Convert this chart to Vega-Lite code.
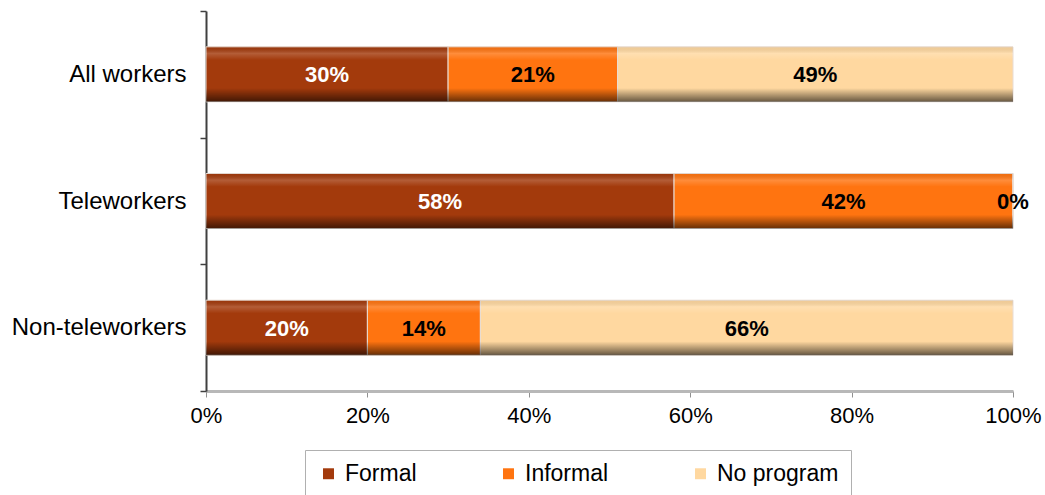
{
  "$schema": "https://vega.github.io/schema/vega-lite/v6.json",
  "width": 807,
  "height": 380,
  "autosize": {"type": "none"},
  "padding": {"left": 206, "top": 11, "right": 32, "bottom": 104},
  "background": "white",
  "config": {
    "font": "Liberation Sans",
    "view": {"stroke": null}
  },
  "data": {
    "values": [
      {"group": "All workers", "type": "Formal", "order": 1, "value": 0.30},
      {"group": "All workers", "type": "Informal", "order": 2, "value": 0.21},
      {"group": "All workers", "type": "No program", "order": 3, "value": 0.49},
      {"group": "Teleworkers", "type": "Formal", "order": 1, "value": 0.58},
      {"group": "Teleworkers", "type": "Informal", "order": 2, "value": 0.42},
      {"group": "Teleworkers", "type": "No program", "order": 3, "value": 0},
      {"group": "Non-teleworkers", "type": "Formal", "order": 1, "value": 0.20},
      {"group": "Non-teleworkers", "type": "Informal", "order": 2, "value": 0.14},
      {"group": "Non-teleworkers", "type": "No program", "order": 3, "value": 0.66}
    ]
  },
  "transform": [
    {"stack": "value", "groupby": ["group"], "sort": [{"field": "order"}], "as": ["v0", "v1"]},
    {"calculate": "(datum.v0 + datum.v1) / 2", "as": "mid"}
  ],
  "encoding": {
    "y": {
      "field": "group",
      "type": "nominal",
      "sort": ["All workers", "Teleworkers", "Non-teleworkers"],
      "scale": {"paddingInner": 0, "paddingOuter": 0},
      "axis": {
        "title": null,
        "labelFontSize": 24,
        "labelColor": "black",
        "labelPadding": 14,
        "tickBand": "extent",
        "tickSize": 6,
        "tickColor": "#404040",
        "domainColor": "#404040",
        "domainWidth": 2,
        "tickWidth": 1.5
      }
    }
  },
  "layer": [
    {
      "mark": {"type": "bar", "stroke": "#e8dcd4", "strokeWidth": 1, "height": {"band": 0.434}},
      "encoding": {
        "x": {
          "field": "v0",
          "type": "quantitative",
          "scale": {"domain": [0, 1], "nice": false},
          "axis": {
            "title": null,
            "values": [0, 0.2, 0.4, 0.6, 0.8, 1],
            "format": ".0%",
            "labelFontSize": 22,
            "labelColor": "black",
            "labelPadding": 8,
            "grid": false,
            "domainColor": "#b8b8b8",
            "domainWidth": 3,
            "tickColor": "#909090",
            "tickSize": 6,
            "labelFlush": false
          }
        },
        "x2": {"field": "v1"},
        "color": {
          "field": "type",
          "type": "nominal",
          "scale": {
            "domain": ["Formal", "Informal", "No program"],
            "range": ["#A33A0C", "#FF7410", "#FFD8A0"]
          },
          "legend": {
            "title": null,
            "orient": "none",
            "direction": "horizontal",
            "legendX": 99,
            "legendY": 439,
            "symbolType": "square",
            "symbolSize": 120,
            "symbolStrokeWidth": 0,
            "symbolOpacity": 1,
            "labelFontSize": 23,
            "labelColor": "black",
            "labelOffset": 5,
            "columnPadding": 80,
            "padding": 12,
            "strokeColor": "#b0b0b0",
            "fillColor": "white"
          }
        }
      }
    },
    {
      "mark": {
        "type": "bar",
        "height": {"band": 0.434},
        "fill": {
          "gradient": "linear",
          "x1": 0, "y1": 0, "x2": 0, "y2": 1,
          "stops": [
            {"offset": 0, "color": "rgba(0,0,0,0.05)"},
            {"offset": 0.12, "color": "rgba(255,255,255,0.18)"},
            {"offset": 0.24, "color": "rgba(255,255,255,0)"},
            {"offset": 0.75, "color": "rgba(0,0,0,0)"},
            {"offset": 1, "color": "rgba(0,0,0,0.6)"}
          ]
        }
      },
      "encoding": {
        "x": {"field": "v0", "type": "quantitative"},
        "x2": {"field": "v1"}
      }
    },
    {
      "mark": {"type": "text", "fontSize": 22, "fontWeight": "bold", "baseline": "middle", "align": "center", "dy": 1},
      "encoding": {
        "x": {"field": "mid", "type": "quantitative"},
        "text": {"field": "value", "type": "quantitative", "format": ".0%"},
        "color": {
          "condition": {"test": "datum.type === 'Formal'", "value": "white"},
          "value": "black"
        }
      }
    }
  ]
}
